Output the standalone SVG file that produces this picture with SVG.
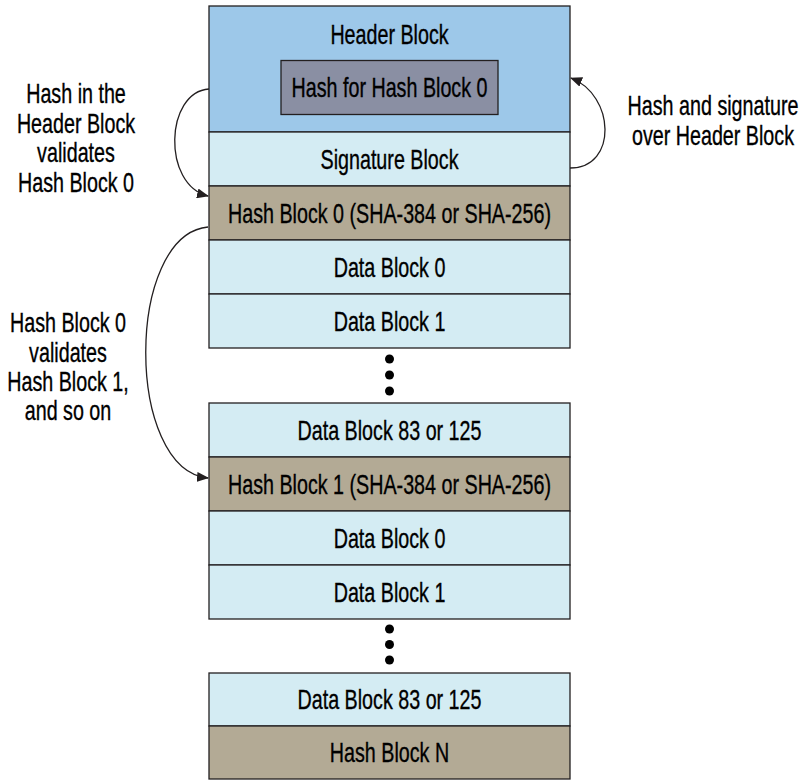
<svg xmlns="http://www.w3.org/2000/svg" width="799" height="781" viewBox="0 0 799 781">
<defs>
<style>
.blk{stroke:#231f20;stroke-width:1.3}
.hdr{fill:#9dc8e9}
.inner{fill:#8a8fa3}
.dat{fill:#d4ecf3}
.hsh{fill:#b3aa95}
.t{font-family:"Liberation Sans",Arial,sans-serif;font-size:27px;fill:#000;stroke:#000;stroke-width:0.35;text-anchor:middle}
.conn{fill:none;stroke:#231f20;stroke-width:1.3}
.dot{fill:#000}
</style>
<marker id="ah" viewBox="0 0 12 10" refX="11" refY="5" markerWidth="12" markerHeight="10" markerUnits="userSpaceOnUse" orient="auto">
<path d="M0,0 L12,5 L0,10 Z" fill="#231f20"/>
</marker>
</defs>
<rect width="799" height="781" fill="#fff"/>

<g id="header-block">
<rect class="blk hdr" x="209" y="6" width="361" height="126"/>
<text class="t" transform="translate(389.5,43.5) scale(0.73,1)">Header Block</text>
</g>
<g id="hash-for-hash-block-0">
<rect class="blk inner" x="281" y="60.5" width="217" height="54"/>
<text class="t" transform="translate(389.5,96.5) scale(0.73,1)">Hash for Hash Block 0</text>
</g>
<g id="signature-block">
<rect class="blk dat" x="209" y="132" width="361" height="54"/>
<text class="t" transform="translate(389.5,168.5) scale(0.73,1)">Signature Block</text>
</g>
<g id="hash-block-0">
<rect class="blk hsh" x="209" y="186" width="361" height="54"/>
<text class="t" transform="translate(389.5,222.5) scale(0.73,1)">Hash Block 0 (SHA-384 or SHA-256)</text>
</g>
<g id="data-block-0-a">
<rect class="blk dat" x="209" y="240" width="361" height="54"/>
<text class="t" transform="translate(389.5,276.5) scale(0.73,1)">Data Block 0</text>
</g>
<g id="data-block-1-a">
<rect class="blk dat" x="209" y="294" width="361" height="54"/>
<text class="t" transform="translate(389.5,330.5) scale(0.73,1)">Data Block 1</text>
</g>
<g id="ellipsis-a">
<circle class="dot" cx="389.5" cy="359" r="4.5"/>
<circle class="dot" cx="389.5" cy="375" r="4.5"/>
<circle class="dot" cx="389.5" cy="391" r="4.5"/>
</g>
<g id="data-block-83-a">
<rect class="blk dat" x="209" y="403" width="361" height="54"/>
<text class="t" transform="translate(389.5,439.5) scale(0.73,1)">Data Block 83 or 125</text>
</g>
<g id="hash-block-1">
<rect class="blk hsh" x="209" y="457" width="361" height="54"/>
<text class="t" transform="translate(389.5,493.5) scale(0.73,1)">Hash Block 1 (SHA-384 or SHA-256)</text>
</g>
<g id="data-block-0-b">
<rect class="blk dat" x="209" y="511" width="361" height="54"/>
<text class="t" transform="translate(389.5,547.5) scale(0.73,1)">Data Block 0</text>
</g>
<g id="data-block-1-b">
<rect class="blk dat" x="209" y="565" width="361" height="54"/>
<text class="t" transform="translate(389.5,601.5) scale(0.73,1)">Data Block 1</text>
</g>
<g id="ellipsis-b">
<circle class="dot" cx="389.5" cy="629" r="4.5"/>
<circle class="dot" cx="389.5" cy="644.5" r="4.5"/>
<circle class="dot" cx="389.5" cy="660" r="4.5"/>
</g>
<g id="data-block-83-b">
<rect class="blk dat" x="209" y="673" width="361" height="53"/>
<text class="t" transform="translate(389.5,709) scale(0.73,1)">Data Block 83 or 125</text>
</g>
<g id="hash-block-n">
<rect class="blk hsh" x="209" y="726" width="361" height="53"/>
<text class="t" transform="translate(389.5,762) scale(0.73,1)">Hash Block N</text>
</g>

<g id="label-left-1">
<text class="t" transform="translate(76,103) scale(0.73,1)">Hash in the</text>
<text class="t" transform="translate(76,133) scale(0.73,1)">Header Block</text>
<text class="t" transform="translate(76,162) scale(0.73,1)">validates</text>
<text class="t" transform="translate(76,192) scale(0.73,1)">Hash Block 0</text>
</g>
<g id="label-right">
<text class="t" transform="translate(713,115) scale(0.73,1)">Hash and signature</text>
<text class="t" transform="translate(713,145) scale(0.73,1)">over Header Block</text>
</g>
<g id="label-left-2">
<text class="t" transform="translate(68,332) scale(0.73,1)">Hash Block 0</text>
<text class="t" transform="translate(68,361.5) scale(0.73,1)">validates</text>
<text class="t" transform="translate(68,391) scale(0.73,1)">Hash Block 1,</text>
<text class="t" transform="translate(68,420) scale(0.73,1)">and so on</text>
</g>

<g id="connectors">
<path class="conn" d="M209,89 C165,92 162,185 208,196" marker-end="url(#ah)"/>
<path class="conn" d="M570,168 C618,168 615,95 571,78" marker-end="url(#ah)"/>
<path class="conn" d="M208,227 C125,235 125,470 208,478" marker-end="url(#ah)"/>
</g>
</svg>
